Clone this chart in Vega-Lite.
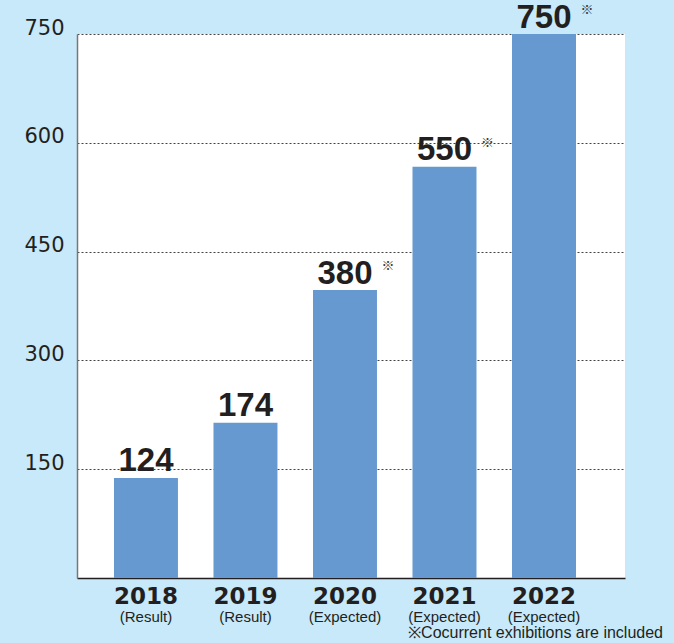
{
  "$schema": "https://vega.github.io/schema/vega-lite/v6.json",
  "autosize": {"type": "none"},
  "width": 548,
  "height": 544,
  "padding": {"left": 77, "top": 34, "right": 49, "bottom": 65},
  "background": "#c7e9f9",
  "config": {
    "view": {"fill": "white", "stroke": null},
    "axis": {"ticks": false, "title": null}
  },
  "data": {
    "values": [
      {"year": "2018", "value": 138, "label": "124", "note": "", "sub": "(Result)"},
      {"year": "2019", "value": 214, "label": "174", "note": "", "sub": "(Result)"},
      {"year": "2020", "value": 397, "label": "380", "note": "※", "sub": "(Expected)"},
      {"year": "2021", "value": 567, "label": "550", "note": "※", "sub": "(Expected)"},
      {"year": "2022", "value": 750, "label": "750", "note": "※", "sub": "(Expected)"}
    ]
  },
  "encoding": {
    "x": {
      "field": "year",
      "type": "nominal",
      "sort": null,
      "scale": {"paddingInner": 0.357, "paddingOuter": 0.432, "align": 0.43},
      "axis": {
        "labelAngle": 0,
        "labelFont": "DejaVu Sans",
        "labelFontWeight": "bold",
        "labelFontSize": 23,
        "labelColor": "#231f20",
        "labelPadding": 7,
        "domainColor": "#231f20",
        "domainWidth": 1.5,
        "grid": false
      }
    }
  },
  "layer": [
    {
      "mark": {"type": "bar", "color": "#6699d0"},
      "encoding": {
        "y": {
          "field": "value",
          "type": "quantitative",
          "scale": {"domain": [0, 750], "nice": false},
          "axis": {
            "values": [150, 300, 450, 600, 750],
            "labelFont": "DejaVu Sans",
            "labelFontSize": 21,
            "labelColor": "#231f20",
            "labelPadding": 13,
            "labelOffset": -6,
            "domainColor": "#777777",
            "domainWidth": 1.5,
            "grid": true,
            "gridColor": "#444444",
            "gridDash": [2, 2],
            "gridWidth": 1
          }
        }
      }
    },
    {
      "mark": {"type": "text", "font": "Liberation Sans", "fontWeight": "bold", "fontSize": 33, "color": "#231f20", "baseline": "alphabetic", "dy": -6.5},
      "encoding": {
        "y": {"field": "value", "type": "quantitative"},
        "text": {"field": "label"}
      }
    },
    {
      "mark": {"type": "text", "font": "Noto Sans CJK JP", "fontSize": 13, "color": "#3a3a3a", "baseline": "middle", "align": "center", "dx": 43, "dy": -24},
      "encoding": {
        "y": {"field": "value", "type": "quantitative"},
        "text": {"field": "note"}
      }
    },
    {
      "mark": {"type": "text", "font": "Liberation Sans", "fontSize": 15, "color": "#231f20", "baseline": "alphabetic", "dy": 44},
      "encoding": {
        "y": {"datum": 0, "type": "quantitative"},
        "text": {"field": "sub"}
      }
    },
    {
      "data": {"values": [{"year": "2022", "foot": "※Cocurrent exhibitions are included"}]},
      "mark": {"type": "text", "font": "Liberation Sans", "fontSize": 16, "color": "#231f20", "baseline": "alphabetic", "align": "right", "dx": 119, "dy": 60},
      "encoding": {
        "y": {"datum": 0, "type": "quantitative"},
        "text": {"field": "foot"}
      }
    }
  ]
}
